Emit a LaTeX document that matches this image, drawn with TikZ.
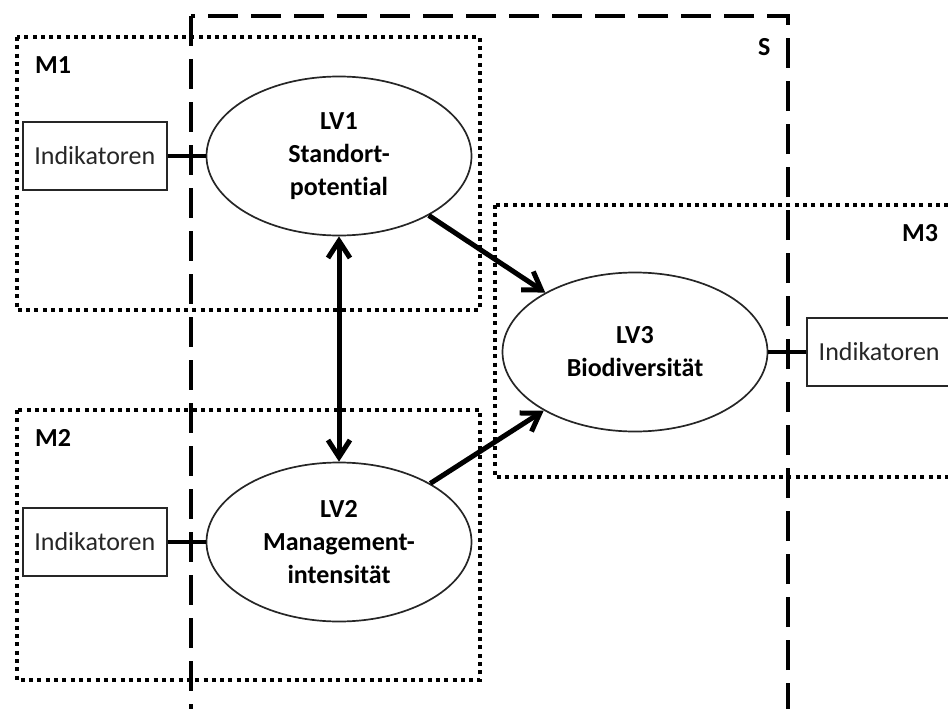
\documentclass[tikz,border=0pt]{standalone}
\usepackage{fontspec}
\setmainfont{Carlito}[Ligatures=NoCommon]
\usepackage{tikz}
\usetikzlibrary{shapes.geometric, arrows.meta, positioning}
\newcommand{\lvfont}{\fontsize{26}{33}\selectfont}
\tikzset{
  latent/.style={ellipse, draw=black!85, line width=1.7pt, fill=white, minimum width=265pt, minimum height=159pt, align=center, inner sep=0pt, font=\lvfont\bfseries},
  indik/.style={rectangle, draw=black!85, line width=1.6pt, fill=white, minimum width=144pt, minimum height=68pt, inner sep=0pt, font=\lvfont, text=black!85},
  mbox/.style={line width=4pt, dash pattern=on 4pt off 4.3pt},
  sbox/.style={line width=4pt, dash pattern=on 30pt off 13pt},
  link/.style={line width=3.5pt},
  arr/.style={-{Straight Barb[length=17pt, width=22pt]}, line width=5pt},
  darr/.style={{Straight Barb[length=17pt, width=22pt]}-{Straight Barb[length=17pt, width=22pt]}, line width=5pt},
  tag/.style={font=\lvfont\bfseries, anchor=west, inner sep=0pt},
}

\begin{document}
\begin{tikzpicture}[x=1pt, y=-1pt, node distance=38pt]
\useasboundingbox (0,0) rectangle (948,709);
\clip (0,0) rectangle (948,709);
% measurement models
\draw[mbox] (17,37) rectangle (480,310);
\draw[mbox] (17,410) rectangle (480,680);
\draw[mbox] (495,205) rectangle (960,477);
% structural model
\draw[sbox] (191,16) rectangle (788,711);
\node[tag] (m1) at (35,65) {M1};
\node[tag] (m2) at (35,438) {M2};
\node[tag] (m3) at (902,233) {M3};
\node[tag] (s) at (758,47) {S};
\node[latent] (lv1) at (339,156) {LV1\\Standort-\\potential};
\node[latent] (lv2) at (339,542) {LV2\\Management-\\intensität};
\node[latent] (lv3) at (635,352) {LV3\\Biodiversität};
\node[indik, left=of lv1] (ind1) {Indikatoren};
\node[indik, left=of lv2] (ind2) {Indikatoren};
\node[indik, right=of lv3] (ind3) {Indikatoren};
\draw[link] (ind1) -- (lv1);
\draw[link] (ind2) -- (lv2);
\draw[link] (lv3) -- (ind3);
\draw[darr] (lv1) -- (lv2);
\draw[arr] (lv1) -- (lv3);
\draw[arr] (lv2) -- (lv3);
\end{tikzpicture}
\end{document}
